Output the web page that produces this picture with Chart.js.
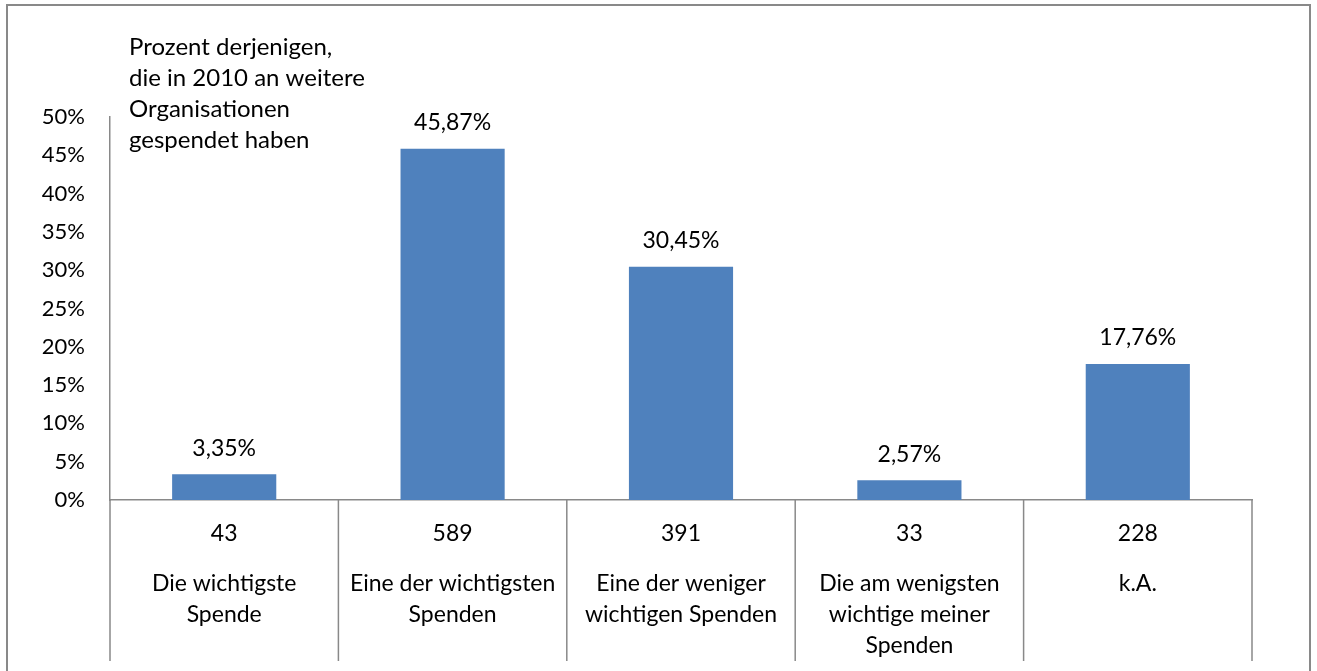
<!DOCTYPE html>
<html>
<head>
<meta charset="utf-8">
<script src="https://cdn.jsdelivr.net/npm/chart.js@4"></script>
<style>
  body { margin: 0; background: #fff; }
  #rahmen { position: absolute; left: 6px; top: 4px; width: 1305px; height: 700px; border: 2px solid #898989; box-sizing: border-box; }
  #wrap { position: absolute; left: 0; top: 0; width: 1317px; height: 671px; }
</style>
</head>
<body>
<div id="rahmen"></div>
<div id="wrap"><canvas id="grafico"></canvas></div>
<script>
// Daten
const kategorien = [
  ['Die wichtigste', 'Spende'],
  ['Eine der wichtigsten', 'Spenden'],
  ['Eine der weniger', 'wichtigen Spenden'],
  ['Die am wenigsten', 'wichtige meiner', 'Spenden'],
  ['k.A.']
];
const anzahl = [43, 589, 391, 33, 228];
const prozent = [3.35, 45.87, 30.45, 2.57, 17.76];
const titelZeilen = ['Prozent derjenigen,', 'die in 2010 an weitere', 'Organisationen', 'gespendet haben'];

const schrift = 'Lato, "Open Sans", sans-serif';
const grau = '#898989';

// Beschriftungen, Trennlinien und Anzahl unter der Achse
const extras = {
  id: 'extras',
  afterDraw(chart) {
    const ctx = chart.ctx;
    const x = chart.scales.x;
    const area = chart.chartArea;
    ctx.save();
    // Trennlinien der Tabelle
    ctx.strokeStyle = grau;
    ctx.lineWidth = 1.5;
    for (let i = 0; i <= anzahl.length; i++) {
      const px = i === 0 ? area.left : (i === anzahl.length ? area.right :
        (x.getPixelForValue(i - 1) + x.getPixelForValue(i)) / 2);
      ctx.beginPath();
      ctx.moveTo(px, area.bottom);
      ctx.lineTo(px, area.bottom + 161);
      ctx.stroke();
    }
    ctx.fillStyle = '#000';
    ctx.font = '23px ' + schrift;
    ctx.textAlign = 'center';
    ctx.textBaseline = 'middle';
    // Anzahl
    anzahl.forEach((n, i) => {
      ctx.fillText(String(n), x.getPixelForValue(i), area.bottom + 34);
    });
    // Prozentwerte über den Balken
    const meta = chart.getDatasetMeta(0);
    meta.data.forEach((bar, i) => {
      ctx.fillText(prozent[i].toFixed(2).replace('.', ',') + '%', bar.x, bar.y - 26);
    });
    // Titel
    ctx.textAlign = 'left';
    ctx.font = '24px ' + schrift;
    titelZeilen.forEach((t, i) => {
      ctx.fillText(t, 129, 47 + i * 31);
    });
    ctx.restore();
  }
};

const ctx1 = document.getElementById('grafico').getContext('2d');
new Chart(ctx1, {
  type: 'bar',
  data: {
    labels: kategorien,
    datasets: [{
      data: prozent,
      backgroundColor: '#4F81BD',
      categoryPercentage: 1,
      barPercentage: 0.456
    }]
  },
  options: {
    responsive: true,
    maintainAspectRatio: false,
    animation: false,
    layout: { padding: { top: 117, right: 65, bottom: 11, left: 0 } },
    plugins: { legend: { display: false }, tooltip: { enabled: false } },
    scales: {
      y: {
        min: 0,
        max: 50,
        afterFit(scale) { scale.width = 110; },
        ticks: {
          stepSize: 5,
          padding: 25,
          color: '#000',
          font: { family: schrift, size: 22 },
          callback: v => v + '%'
        },
        grid: { display: false, drawTicks: false },
        border: { display: true, color: grau, width: 1.5 }
      },
      x: {
        afterFit(scale) { scale.height = 160; },
        ticks: {
          padding: 68,
          color: '#000',
          maxRotation: 0,
          autoSkip: false,
          font: { family: schrift, size: 23, lineHeight: '31px' }
        },
        grid: { display: false, drawTicks: false },
        border: { display: true, color: grau, width: 1.5 }
      }
    }
  },
  plugins: [extras]
});
</script>
</body>
</html>
